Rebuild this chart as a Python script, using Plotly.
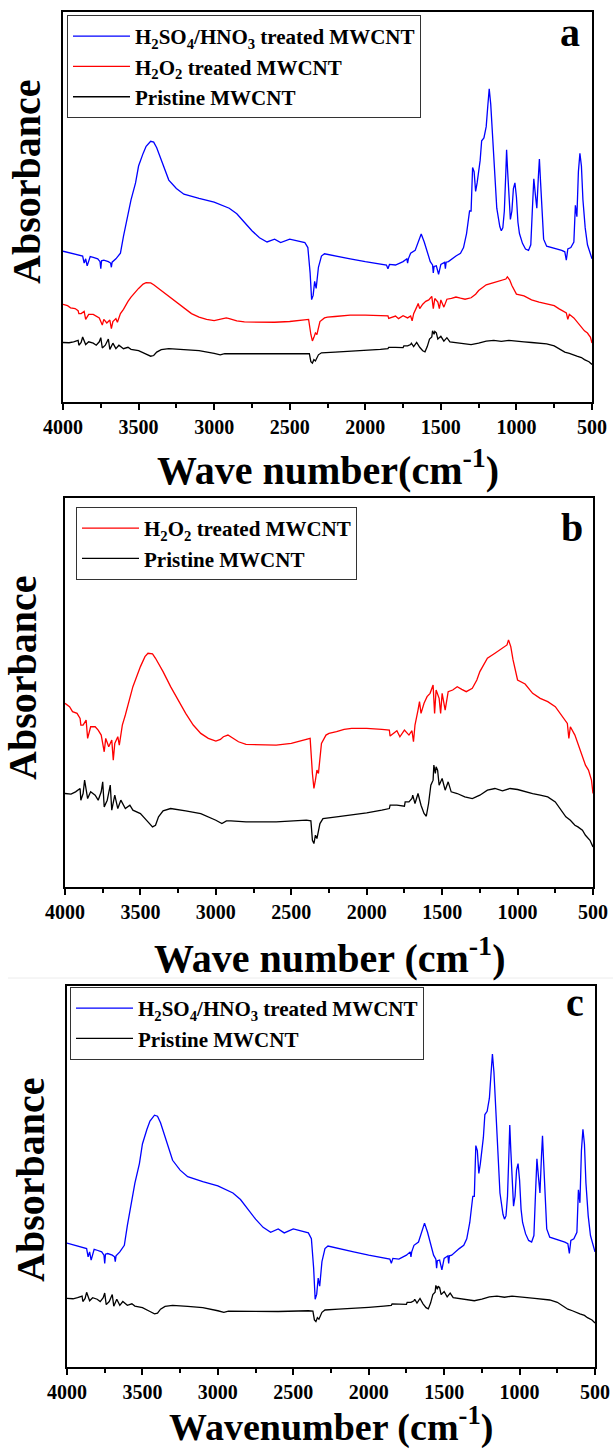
import plotly.graph_objects as go

# ---------------- data (absorbance, arbitrary units) ----------------
wn_blue = [4000, 3900, 3870, 3860, 3850, 3840, 3820, 3800, 3770, 3755, 3750, 3745, 3730, 3700,
           3685, 3680, 3675, 3650, 3620, 3600, 3580, 3550, 3520, 3500, 3470, 3450, 3420, 3400,
           3380, 3350, 3320, 3300, 3250, 3200, 3100, 3000, 2900, 2850, 2800, 2750, 2700, 2650,
           2600, 2560, 2500, 2450, 2400, 2380, 2365, 2355, 2345, 2335, 2325, 2310, 2290, 2270,
           2200, 2100, 2000, 1900, 1860, 1850, 1840, 1800, 1750, 1725, 1720, 1715, 1700, 1670,
           1650, 1630, 1610, 1590, 1570, 1555, 1550, 1545, 1530, 1515, 1500, 1475, 1470, 1465,
           1450, 1400, 1370, 1350, 1330, 1310, 1300, 1290, 1280, 1270, 1260, 1240, 1230, 1215,
           1200, 1190, 1180, 1170, 1160, 1150, 1140, 1130, 1110, 1100, 1090, 1080, 1070, 1065,
           1058, 1050, 1040, 1030, 1020, 1010, 1000, 990, 980, 960, 940, 920, 905, 895, 885,
           875, 865, 855, 848, 840, 830, 820, 800, 750, 700, 680, 670, 660, 640, 620, 610, 600,
           590, 580, 570, 560, 545, 530, 515, 500]
abs_blue = [379, 367, 362, 337, 352, 327, 360, 357, 352, 342, 317, 345, 347, 342,
            337, 322, 340, 352, 372, 432, 482, 562, 622, 682, 727, 752, 770, 767,
            747, 702, 657, 632, 602, 582, 567, 554, 532, 512, 482, 452, 427, 412,
            422, 410, 422, 417, 410, 392, 302, 207, 222, 272, 247, 322, 362, 370,
            362, 352, 342, 332, 330, 317, 332, 330, 342, 352, 337, 352, 372, 382,
            412, 440, 412, 372, 342, 330, 302, 325, 327, 297, 332, 340, 317, 340,
            342, 362, 372, 392, 442, 522, 522, 677, 662, 592, 622, 702, 772, 782,
            822, 892, 957, 902, 802, 702, 622, 532, 467, 452, 462, 522, 662, 740,
            662, 582, 492, 522, 602, 622, 572, 482, 442, 407, 387, 382, 402, 522, 637,
            582, 532, 642, 707, 622, 502, 422, 397, 390, 382, 377, 347, 387, 392, 412, 542, 502,
            662, 727, 682, 562, 462, 402, 377, 352]

wn_red = [4000, 3970, 3950, 3920, 3900, 3895, 3880, 3860, 3850, 3830, 3800, 3780, 3760, 3740,
          3730, 3710, 3690, 3680, 3670, 3650, 3640, 3620, 3600, 3570, 3550, 3500, 3470, 3450,
          3420, 3400, 3350, 3300, 3250, 3200, 3150, 3100, 3050, 3000, 2970, 2950, 2920, 2900,
          2850, 2800, 2700, 2600, 2500, 2400, 2375, 2360, 2350, 2340, 2330, 2320, 2300, 2270,
          2250, 2200, 2150, 2100, 2000, 1900, 1850, 1845, 1800, 1780, 1750, 1720, 1700, 1690,
          1680, 1660, 1650, 1640, 1620, 1600, 1580, 1560, 1550, 1540, 1520, 1510, 1500, 1480,
          1460, 1430, 1400, 1370, 1340, 1300, 1270, 1250, 1200, 1150, 1100, 1070, 1060, 1045,
          1030, 1010, 1000, 950, 920, 900, 850, 800, 750, 720, 700, 670, 660, 650, 620, 600,
          570, 550, 530, 510, 500]
abs_red = [550, 540, 525, 520, 505, 485, 485, 500, 445, 480, 480, 470, 455, 405,
           445, 420, 440, 380, 430, 450, 425, 485, 515, 570, 600, 660, 690, 700,
           698, 685, 645, 600, 560, 520, 485, 460, 445, 437, 442, 450, 455, 450,
           435, 427, 425, 425, 430, 442, 445, 340, 295, 320, 350, 340, 430, 455,
           460, 465, 472, 475, 475, 472, 470, 452, 468, 450, 470, 455, 468, 435,
           485, 530, 555, 520, 550, 570, 580, 605, 520, 590, 565, 520, 580, 530,
           585, 590, 600, 592, 585, 595, 620, 645, 685, 700, 715, 725, 740, 720,
           680, 640, 620, 608, 592, 580, 565, 555, 540, 520, 510, 490, 445, 480, 455, 430,
           390, 365, 350, 320, 280]

wn_black = [4000, 3960, 3930, 3900, 3895, 3880, 3870, 3850, 3830, 3800, 3780, 3760, 3750, 3740,
            3720, 3700, 3690, 3670, 3650, 3630, 3600, 3570, 3550, 3500, 3450, 3420, 3400, 3380,
            3350, 3300, 3200, 3100, 3000, 2960, 2930, 2900, 2800, 2600, 2400, 2370, 2360, 2350,
            2340, 2330, 2310, 2290, 2200, 2100, 2000, 1900, 1850, 1845, 1800, 1750, 1745, 1720,
            1700, 1695, 1680, 1660, 1640, 1620, 1605, 1590, 1575, 1560, 1555, 1545, 1540, 1530,
            1520, 1500, 1480, 1460, 1440, 1400, 1350, 1300, 1250, 1200, 1150, 1100, 1050, 1000,
            950, 900, 850, 800, 750, 720, 700, 680, 650, 620, 600, 570, 550, 520, 500]
abs_black = [280, 278, 285, 295, 260, 280, 320, 265, 285, 275, 260, 285, 315, 240,
             260, 305, 230, 275, 235, 260, 235, 245, 230, 220, 195, 180, 185, 210,
             228, 235, 228, 220, 200, 190, 198, 198, 195, 195, 200, 198, 140, 130,
             155, 145, 190, 205, 210, 215, 222, 230, 235, 245, 245, 242, 255, 255,
             265, 275, 250, 280, 245, 220, 212, 250, 305, 320, 365, 340, 360, 350,
             305, 325, 290, 315, 285, 280, 270, 265, 275, 290, 295, 288, 295, 292,
             285, 280, 275, 270, 255, 235, 220, 210, 200, 185, 180, 170, 155, 140, 120]

names = {
    "blue": "H<sub>2</sub>SO<sub>4</sub>/HNO<sub>3</sub> treated MWCNT",
    "red": "H<sub>2</sub>O<sub>2</sub> treated MWCNT",
    "black": "Pristine MWCNT",
}
spectra = {"blue": (wn_blue, abs_blue), "red": (wn_red, abs_red), "black": (wn_black, abs_black)}
colors = {"blue": "#0000ff", "red": "#ff0000", "black": "#000000"}

x_ticks = [4000, 3500, 3000, 2500, 2000, 1500, 1000, 500]

# ---------------- layout constants ----------------
W, H = 613, 1451
SERIF = "Liberation Serif, Times New Roman, serif"


def px(x):
    return x / W


def py(y):
    return 1 - y / H


panels = [
    dict(ax="", dom=(63, 592, 12, 402), traces=[("blue", 0.84, 132), ("red", 0.43, 55.5), ("black", 0.41, 63)],
         legend=(67, 15), letter="a", letter_pos=(570, 33), xtitle="Wave number(cm<sup>-1</sup>)",
         xtitle_y=467, ytitle_pos=(27, 182), tsize=40),
    dict(ax="2", dom=(65, 593, 498, 887), traces=[("red", 1.0, 0), ("black", 1.0, 0)],
         legend=(76, 507), letter="b", letter_pos=(572, 527), xtitle="Wave number (cm<sup>-1</sup>)",
         xtitle_y=955, ytitle_pos=(22, 678), tsize=40),
    dict(ax="3", dom=(67, 595, 986, 1367), traces=[("blue", 1.0, 0), ("black", 0.47, 78)],
         legend=(70, 987), letter="c", letter_pos=(575, 1002), xtitle="Wavenumber (cm<sup>-1</sup>)",
         xtitle_y=1424, ytitle_pos=(30, 1180), tsize=38),
]

fig = go.Figure()
layout = dict(
    width=W, height=H, margin=dict(l=0, r=0, t=0, b=0, pad=0, autoexpand=False),
    paper_bgcolor="white", plot_bgcolor="white",
    font=dict(family=SERIF, color="black"),
    annotations=[], shapes=[],
)

for i, p in enumerate(panels):
    ax = p["ax"]
    legname = "legend" if ax == "" else "legend" + ax
    for key, scale, offset in p["traces"]:
        wn, ab = spectra[key]
        fig.add_trace(go.Scatter(
            x=wn, y=[offset + scale * v for v in ab], mode="lines",
            line=dict(color=colors[key], width=1.3),
            name=names[key], xaxis="x" + ax, yaxis="y" + ax, legend=legname,
        ))
    x0, x1, y0, y1 = p["dom"]
    layout["xaxis" + ax] = dict(
        domain=[px(x0), px(x1)], range=[4000, 500], anchor="y" + ax,
        showline=True, linecolor="black", linewidth=2, mirror=True,
        ticks="outside", ticklen=6, tickwidth=1.5, tickcolor="black",
        tickvals=x_ticks, ticktext=[str(t) for t in x_ticks],
        minor=dict(ticks="outside", ticklen=4, tickwidth=1.5, tickcolor="black", dtick=250),
        tickfont=dict(family=SERIF, size=20, color="black", weight="bold"),
        showgrid=False, zeroline=False, fixedrange=True, automargin=False,
    )
    layout["yaxis" + ax] = dict(
        domain=[py(y1), py(y0)], range=[0, 1165], anchor="x" + ax,
        showline=True, linecolor="black", linewidth=2, mirror=True,
        showticklabels=False, ticks="", showgrid=False, zeroline=False, fixedrange=True,
        automargin=False,
    )
    lx, ly = p["legend"]
    layout[legname] = dict(
        x=px(lx), y=py(ly), xanchor="left", yanchor="top",
        bgcolor="white", bordercolor="#333333", borderwidth=1,
        font=dict(family=SERIF, size=21, color="black", weight="bold"),
        tracegroupgap=0, itemwidth=57,
    )
    lx2, ly2 = p["letter_pos"]
    layout["annotations"].append(dict(
        text=p["letter"], x=px(lx2), y=py(ly2), xref="paper", yref="paper",
        showarrow=False, xanchor="center", yanchor="middle",
        font=dict(family=SERIF, size=40, color="black", weight="bold"),
    ))
    layout["annotations"].append(dict(
        text=p["xtitle"], x=px((x0 + x1) / 2), y=py(p["xtitle_y"]), xref="paper", yref="paper",
        showarrow=False, xanchor="center", yanchor="middle",
        font=dict(family=SERIF, size=p["tsize"], color="black", weight="bold"),
    ))
    tx, ty = p["ytitle_pos"]
    layout["annotations"].append(dict(
        text="Absorbance", x=px(tx), y=py(ty), xref="paper", yref="paper",
        showarrow=False, xanchor="center", yanchor="middle", textangle=-90,
        font=dict(family=SERIF, size=40, color="black", weight="bold"),
    ))

layout["shapes"].append(dict(
    type="line", xref="paper", yref="paper", x0=px(8), x1=1, y0=py(978), y1=py(978),
    line=dict(color="#ececec", width=1),
))

fig.update_layout(**layout)
fig.write_html("out.html")
